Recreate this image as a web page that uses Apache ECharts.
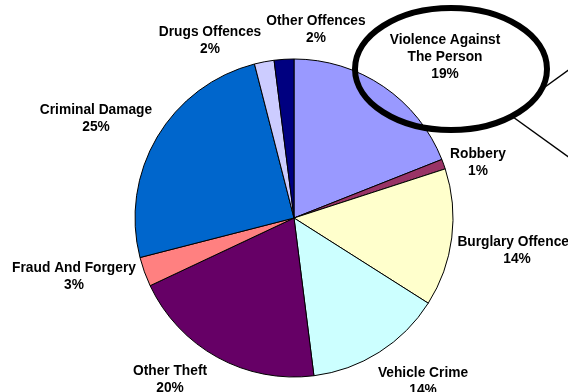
<!DOCTYPE html>
<html>
<head>
<meta charset="utf-8">
<script src="https://cdn.jsdelivr.net/npm/echarts@6/dist/echarts.min.js"></script>
<style>
  html, body { margin: 0; padding: 0; background: #fff; }
  #chart { width: 568px; height: 392px; }
</style>
</head>
<body>
<div id="chart"></div>
<script>
// Offence categories, clockwise from 12 o'clock
const categories = [
  'Violence Against The Person',
  'Robbery',
  'Burglary Offences',
  'Vehicle Crime',
  'Other Theft',
  'Fraud And Forgery',
  'Criminal Damage',
  'Drugs Offences',
  'Other Offences'
];
// Share of recorded offences (%)
const shares = [19, 1, 14, 14, 20, 3, 25, 2, 2];
// Label text lines (name split for wrapping)
const labelNames = [
  'Violence Against\nThe Person',
  'Robbery',
  'Burglary Offences',
  'Vehicle Crime',
  'Other Theft',
  'Fraud And Forgery',
  'Criminal Damage',
  'Drugs Offences',
  'Other Offences'
];

const sliceColors = ['#9999FF', '#993366', '#FFFFCC', '#CCFFFF', '#660066',
                     '#FF8080', '#0066CC', '#CCCCFF', '#000080'];

// Label anchor points (centre of each text block)
const labelSpots = [
  [445, 57], [478, 163], [517, 251], [423, 382], [170, 380],
  [74, 277], [96, 119], [210, 41], [316, 30]
];

const chart = echarts.init(document.getElementById('chart'), null, { renderer: 'canvas' });

chart.setOption({
  animation: false,
  backgroundColor: '#ffffff',
  series: [{
    type: 'pie',
    center: [294, 218],
    radius: 159,
    startAngle: 90,
    clockwise: true,
    silent: true,
    data: categories.map((c, i) => ({
      name: c,
      value: shares[i],
      itemStyle: { color: sliceColors[i] }
    })),
    itemStyle: { borderColor: '#000', borderWidth: 1 },
    label: {
      show: true,
      position: 'outside',
      overflow: 'none',
      formatter: p => labelNames[p.dataIndex] + '\n' + shares[p.dataIndex] + '%',
      fontFamily: 'Liberation Sans, Arial, sans-serif',
      fontWeight: 'bold',
      fontSize: 13.75,
      lineHeight: 17,
      color: '#000',
      align: 'center'
    },
    labelLine: { show: false },
    labelLayout: p => ({
      x: labelSpots[p.dataIndex][0],
      y: labelSpots[p.dataIndex][1],
      align: 'center',
      verticalAlign: 'middle'
    })
  }],
  graphic: [
    {
      // callout bubble around the violence label
      type: 'ellipse',
      z: 100,
      shape: { cx: 451, cy: 69, rx: 96, ry: 61 },
      style: { fill: 'none', stroke: '#000', lineWidth: 6 }
    },
    {
      type: 'line',
      z: 100,
      shape: { x1: 545, y1: 87, x2: 570, y2: 69 },
      style: { stroke: '#000', lineWidth: 1.5 }
    },
    {
      type: 'line',
      z: 100,
      shape: { x1: 513, y1: 117, x2: 570, y2: 158 },
      style: { stroke: '#000', lineWidth: 1.5 }
    }
  ]
});
</script>
</body>
</html>
